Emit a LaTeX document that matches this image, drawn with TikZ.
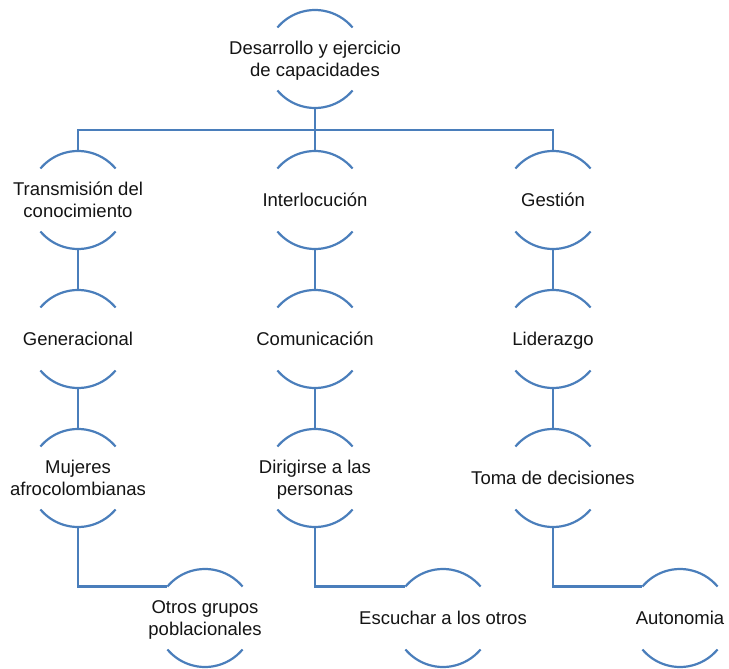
\documentclass[tikz,border=0pt]{standalone}
\usepackage{fontspec}
\setmainfont{Liberation Sans}
\definecolor{arcblue}{RGB}{74,126,187}
\definecolor{txt}{RGB}{20,20,20}
\newcommand{\lbl}[1]{\raisebox{0pt}[\dimexpr\height+5pt\relax]{\makebox[0pt]{\begin{tabular}{@{}c@{}}#1\end{tabular}}}}
\tikzset{
  capnode/.style={circle, inner sep=0pt, outer sep=0pt, minimum size=98pt,
    font=\fontsize{18.5}{22}\selectfont, text=txt},
  arcline/.style={draw=arcblue, line width=2.2pt},
  link/.style={draw=arcblue, line width=2.2pt}
}
\begin{document}
\begin{tikzpicture}[x=1pt,y=1pt]
\useasboundingbox (0,0) rectangle (729,-669);
\node[capnode] (root) at (315,-59) {\lbl{Desarrollo y ejercicio\\de capacidades}};
\node[capnode] (t1) at (78,-200) {\lbl{Transmisión del\\conocimiento}};
\node[capnode] (t2) at (315,-200) {\lbl{Interlocución}};
\node[capnode] (t3) at (553,-200) {\lbl{Gestión}};
\node[capnode] (a2) at (78,-339) {\lbl{Generacional}};
\node[capnode] (b2) at (315,-339) {\lbl{Comunicación}};
\node[capnode] (c2) at (553,-339) {\lbl{Liderazgo}};
\node[capnode] (a3) at (78,-478) {\lbl{Mujeres\\afrocolombianas}};
\node[capnode] (b3) at (315,-478) {\lbl{Dirigirse a las\\personas}};
\node[capnode] (c3) at (553,-478) {\lbl{Toma de decisiones}};
\node[capnode] (a4) at (205,-618) {\lbl{Otros grupos\\poblacionales}};
\node[capnode] (b4) at (443,-618) {\lbl{Escuchar a los otros}};
\node[capnode] (c4) at (680,-618) {\lbl{Autonomia}};
\foreach \n in {root,t1,t2,t3,a2,b2,c2,a3,b3,c3,a4,b4,c4}{
  \draw[arcline] (\n.140) arc[start angle=140, end angle=40, radius=49pt];
  \draw[arcline] (\n.-140) arc[start angle=-140, end angle=-40, radius=49pt];
}
\coordinate (bus) at (0,-130);
\draw[link] (root.south) -- (t2.north);
\draw[link] (t1.north) -- (t1.north |- bus) -- (t3.north |- bus) -- (t3.north);
\draw[link] (t1.south) -- (a2.north);
\draw[link] (a2.south) -- (a3.north);
\draw[link] (t2.south) -- (b2.north);
\draw[link] (b2.south) -- (b3.north);
\draw[link] (t3.south) -- (c2.north);
\draw[link] (c2.south) -- (c3.north);
\draw[link] (a3.south) |- (a4.140);
\draw[link] (b3.south) |- (b4.140);
\draw[link] (c3.south) |- (c4.140);
\end{tikzpicture}
\end{document}
